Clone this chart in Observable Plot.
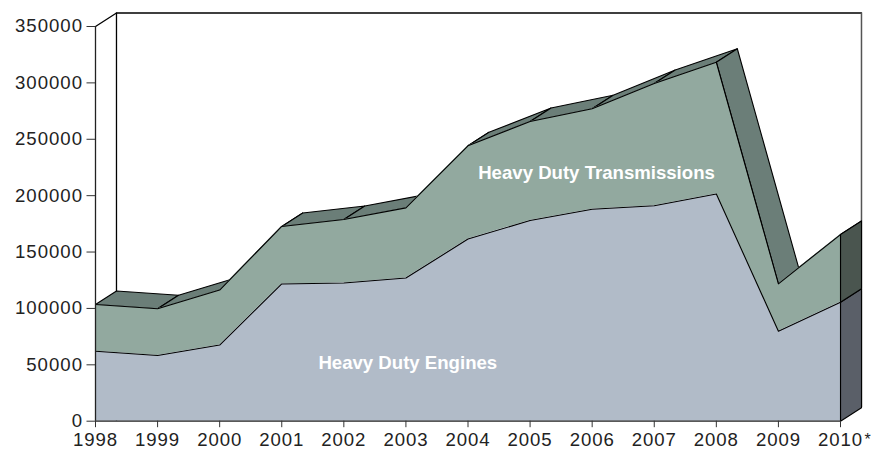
<!DOCTYPE html>
<html><head><meta charset="utf-8">
<script src="https://cdn.jsdelivr.net/npm/d3@7"></script>
<script src="https://cdn.jsdelivr.net/npm/@observablehq/plot@0.6"></script>
<style>html,body{margin:0;padding:0;background:#fff}svg{display:block}
[aria-label="y-axis tick label"] text{letter-spacing:1px}
[aria-label="x-axis tick label"] text{letter-spacing:0.9px}
</style>
</head><body><div id="chart"></div>
<script>
const years = [1998,1999,2000,2001,2002,2003,2004,2005,2006,2007,2008,2009,2010];
const engines = [62000,58300,67500,121700,122500,127000,161500,178000,188000,191000,201500,79800,105500];
const totals = [103500,99700,116300,172700,178800,189200,244200,265800,277000,299500,318300,121800,165500];
const yTicks = [0,50000,100000,150000,200000,250000,300000,350000];
const depthX = 0.338, depthY = 11970;
const yMax = 350000;
const C = {eng:"#b1bbc8", tr:"#92a99f", top:"#6b7e78", wallEng:"#5a5f68", wallTr:"#4a554f"};
const font = "'Liberation Sans', Arial, sans-serif";
const rows = years.map((x,i)=>({x, e:engines[i], t:totals[i]}));
const poly = (id,pts)=>[...pts,pts[0]].map(([x,y])=>({x,y,face:id}));
const faces = years.slice(0,-1).flatMap((x,i)=>poly(i,[
  [x,totals[i]],[years[i+1],totals[i+1]],
  [years[i+1]+depthX,totals[i+1]+depthY],[x+depthX,totals[i]+depthY]]));
const last = rows[rows.length-1], X = last.x, D = X+depthX;
const wallEng = poly("e",[[X,0],[X,last.e],[D,last.e+depthY],[D,depthY]]);
const wallTr = poly("t",[[X,last.e],[X,last.t],[D,last.t+depthY],[D,last.e+depthY]]);
const backTop = [{x:years[0],y:yMax},{x:years[0]+depthX,y:yMax+depthY},{x:D,y:yMax+depthY}];
const lineOpts = {x:"x",y:"y",stroke:"#000",strokeWidth:1.1,curve:"linear"};

const plot = Plot.plot({
  width:874, height:453, marginLeft:95, marginRight:34, marginTop:26, marginBottom:32.3,
  style:{background:"#fff",fontFamily:font,overflow:"visible"},
  x:{domain:[1998,2010],label:null},
  y:{domain:[0,yMax],label:null},
  marks:[
    Plot.line(backTop,{...lineOpts,strokeWidth:1.3}),
    Plot.ruleX([years[0]+depthX],{y1:0,y2:yMax+depthY,stroke:"#000",strokeWidth:1.3}),
    Plot.ruleX([D],{y1:depthY,y2:yMax+depthY,stroke:"#555",strokeWidth:1.5}),
    Plot.line(faces,{...lineOpts,z:"face",fill:C.top}),
    Plot.line(wallEng,{...lineOpts,z:"face",fill:C.wallEng}),
    Plot.line(wallTr,{...lineOpts,z:"face",fill:C.wallTr}),
    Plot.areaY(rows,{x:"x",y1:"e",y2:"t",fill:C.tr}),
    Plot.areaY(rows,{x:"x",y1:0,y2:"e",fill:C.eng}),
    Plot.line(rows,{...lineOpts,y:"t"}),
    Plot.line(rows,{...lineOpts,y:"e"}),
    Plot.ruleX([X],{y1:0,y2:last.t,stroke:"#000",strokeWidth:1.1}),
    Plot.ruleX([years[0]],{y1:0,y2:yMax,stroke:"#222",strokeWidth:1.3}),
    Plot.ruleY([0],{stroke:"#222",strokeWidth:1.3}),
    Plot.axisY({ticks:yTicks,tickFormat:d=>String(d),tickSize:8.5,tickPadding:4,label:null,
      stroke:"#333",fill:"#222",fontSize:18.6}),
    Plot.axisX({ticks:years,tickFormat:d=>String(d),tickSize:6.5,tickPadding:5,label:null,
      stroke:"#333",fill:"#222",fontSize:18.6}),
    Plot.text(["*"],{x:()=>2010,y:()=>0,text:d=>d,dx:27,dy:19,fontSize:16,fill:"#222"}),
    Plot.text(["Heavy Duty Transmissions"],{x:()=>2006.07,y:()=>220100,text:d=>d,fill:"#fff",fontWeight:"bold",fontSize:18.6}),
    Plot.text(["Heavy Duty Engines"],{x:()=>2003.03,y:()=>52000,text:d=>d,fill:"#fff",fontWeight:"bold",fontSize:18.6})
  ]
});
document.getElementById("chart").appendChild(plot);
</script></body></html>
